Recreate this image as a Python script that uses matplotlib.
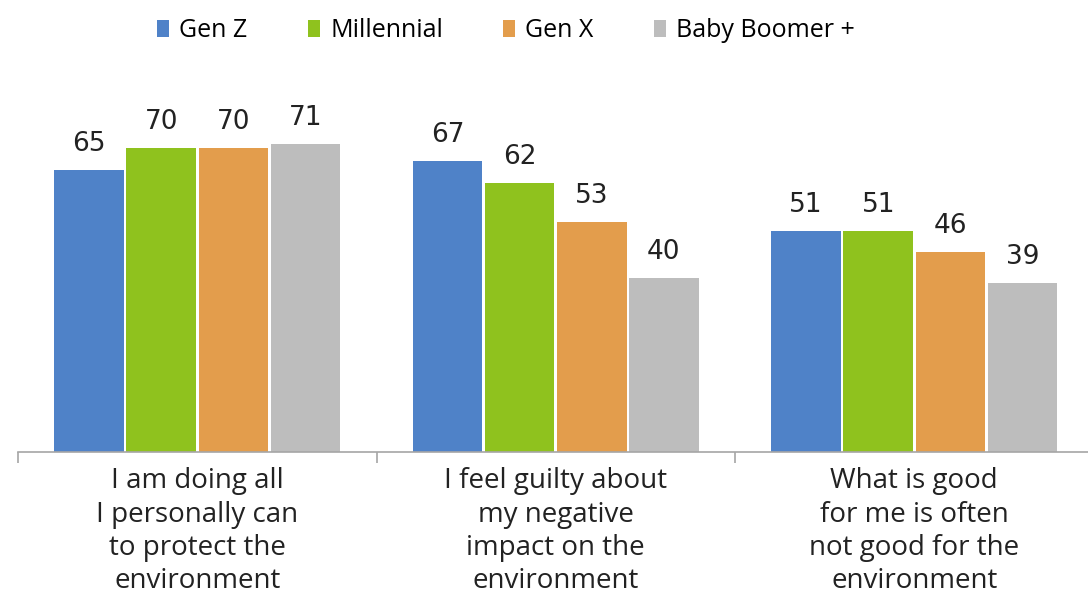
import matplotlib.pyplot as plt
import numpy as np

plt.rcParams.update({
    'font.family': ['Open Sans', 'DejaVu Sans'],
})

categories = [
    'I am doing all\nI personally can\nto protect the\nenvironment',
    'I feel guilty about\nmy negative\nimpact on the\nenvironment',
    'What is good\nfor me is often\nnot good for the\nenvironment',
]
series_names = ['Gen Z', 'Millennial', 'Gen X', 'Baby Boomer +']
gen_z = [65, 67, 51]
millennial = [70, 62, 51]
gen_x = [70, 53, 46]
boomer = [71, 40, 39]
colors = ['#4f82c8', '#8fc21e', '#e39d4c', '#bdbdbd']

W, H = 1088, 599
fig = plt.figure(figsize=(W / 100, H / 100), dpi=100)
px_per_unit = 4.34
ymax = 81
ax = fig.add_axes([18 / W, (H - 452) / H, 1075.5 / W, ymax * px_per_unit / H])

x = np.arange(len(categories))
step = 0.201
width = 0.194
for i, (name, vals) in enumerate(zip(series_names, [gen_z, millennial, gen_x, boomer])):
    pos = x + (i - 1.5) * step
    bars = ax.bar(pos, vals, width=width, color=colors[i], label=name)
    for b, v in zip(bars, vals):
        ax.text(b.get_x() + b.get_width() / 2, v + 3.0, str(v),
                ha='center', va='bottom', fontsize=19, color='#222222',
                family='DejaVu Sans')

ax.set_xlim(-0.5, 2.5)
ax.set_ylim(0, ymax)
ax.set_yticks([])
for s in ['top', 'right', 'left']:
    ax.spines[s].set_visible(False)
ax.spines['bottom'].set_color('#a6a6a6')
ax.spines['bottom'].set_linewidth(1.2)

ax.set_xticks(x)
ax.set_xticklabels(categories, fontsize=20, color='#222222', linespacing=1.25)
ax.tick_params(axis='x', which='major', length=0, pad=11)
ax.set_xticks([-0.5, 0.5, 1.5, 2.5], minor=True)
ax.tick_params(axis='x', which='minor', length=8, color='#a6a6a6', width=1.2)

fig.legend(loc='upper center', bbox_to_anchor=(0.465, 1.007), ncol=4, frameon=False,
           fontsize=18, handlelength=0.5, handleheight=0.7, handletextpad=0.4,
           columnspacing=2.4)

fig.savefig('out.png', dpi=100)
